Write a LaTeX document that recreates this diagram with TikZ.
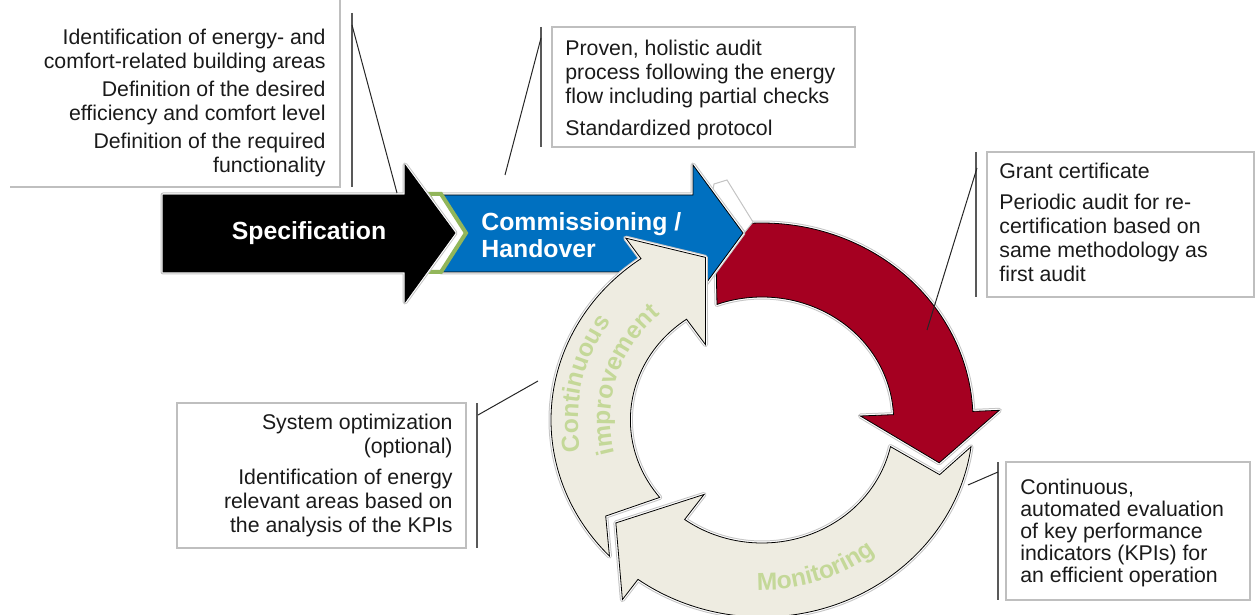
\documentclass[tikz,border=0pt]{standalone}
\usepackage{fontspec}
\setmainfont{Liberation Sans}
\usetikzlibrary{calc,decorations.text}

\definecolor{commblue}{RGB}{0,112,192}
\definecolor{certred}{RGB}{165,0,33}
\definecolor{cyclebeige}{RGB}{238,236,225}
\definecolor{chevgreen}{RGB}{146,182,90}
\definecolor{cyclegreen}{RGB}{196,216,152}
\definecolor{boxgray}{RGB}{191,191,191}
\definecolor{bargray}{RGB}{89,89,89}
\definecolor{halogray}{RGB}{196,196,196}
\definecolor{notetext}{RGB}{26,26,26}

% one arrow of the cycle: fill, tip of the previous arrow, head base, tip
\newcommand{\cyclearrow}[4]{%
  \pgfmathsetmacro{\tailout}{#2-6.7}
  \pgfmathsetmacro{\tailnotch}{#2+3.7}
  \pgfmathsetmacro{\tailin}{#2-2}
  \draw[halo, fill=#1] ($(C)+(\tailout:211 and 197)$)
    arc[start angle=\tailout, end angle=#3, x radius=211, y radius=197]
    -- ($(C)+(#3:237.5 and 222)$)
    -- ($(C)+(#4:183 and 171)$)
    -- ($(C)+(#3:98.5 and 92)$)
    -- ($(C)+(#3:131.6 and 123)$)
    arc[start angle=#3, end angle=\tailin, x radius=131.6, y radius=123]
    -- ($(C)+(\tailnotch:187 and 175)$)
    -- cycle;
}

\begin{document}
\begin{tikzpicture}[x=0.5pt, y=-0.5pt,
  halo/.style={preaction={draw=halogray, line width=2.5pt, line join=round},
               preaction={draw=white, line width=1.5pt, line join=round}},
  note/.style={inner sep=0pt, text=notetext, font=\fontsize{10.65}{12}\selectfont},
  notebox/.style={draw=boxgray, line width=0.6pt},
  bar/.style={draw=bargray, line width=1pt},
  leader/.style={draw=black!85, line width=0.5pt},
  arrowtext/.style={inner sep=0pt, text=white, font=\bfseries\fontsize{12.4}{13.5}\selectfont}]

    \useasboundingbox (0,0) rectangle (1255,615);
    \coordinate (C) at (762,420);

    % cycle, red part first (blue goes over it)
    \cyclearrow{certred}{252}{357.5}{374.5}
    \draw[draw=halogray, line width=0.5pt, fill=white] (713,190) -- (714,184) -- (727,180) -- (753,222) -- (745,232) -- cycle;

    % process arrows
    \draw[halo, fill=commblue] (441,195) -- (693,195) -- (693,165) -- (743,233) -- (693,301) -- (693,272) -- (441,272) -- (466,233) -- cycle;
    \draw[draw=chevgreen, line width=2pt, fill=white] (428,194) -- (441,194) -- (466,233) -- (441,272) -- (425,272) -- (451,233) -- cycle;
    \draw[halo, fill=black] (163,195) -- (405,195) -- (405,165) -- (455,233) -- (405,302) -- (405,272) -- (163,272) -- cycle;

    % monitoring, continuous improvement
    \cyclearrow{cyclebeige}{14.5}{126}{143}
    \cyclearrow{cyclebeige}{143}{235}{252}

    \node[arrowtext] (speclabel) at (309,233) {Specification};
    \node[arrowtext, align=left, anchor=north west] (commlabel) at (481,212.5) {Commissioning /\\Handover};

    % curved labels on the cycle
    \path[decorate, decoration={text along path, text align=center,
        text={|\bfseries\fontsize{12.3}{14}\selectfont\color{cyclegreen}|Monitoring}}]
        ($(C)+(112:181.9 and 170)$) arc[start angle=112, end angle=30, x radius=181.9, y radius=170];
    \path[decorate, decoration={text along path, text align=center,
        text={|\bfseries\fontsize{12.3}{14}\selectfont\color{cyclegreen}|Continuous}}]
        ($(C)+(152:184 and 172)$) arc[start angle=152, end angle=232, x radius=184, y radius=172];
    \path[decorate, decoration={text along path, text align=center,
        text={|\bfseries\fontsize{12.3}{14}\selectfont\color{cyclegreen}|improvement}}]
        ($(C)+(157:152 and 142)$) arc[start angle=157, end angle=237, x radius=152, y radius=142];

    % notes
    \draw[notebox] (10,187) -- (340,187) -- (340,0);
    \node[note, align=right, anchor=north east] (specnote) at (326,29)
        {Identification of energy- and\\comfort-related building areas\\[2pt]
         Definition of the desired\\efficiency and comfort level\\[2pt]
         Definition of the required\\functionality};

    \draw[notebox] (552,27) rectangle (855,147);
    \node[note, align=left, anchor=north west] (handovernote) at (565,40)
        {Proven, holistic audit\\process following the energy\\flow including partial checks\\[4pt]
         Standardized protocol};

    \draw[notebox] (987,152) rectangle (1254,297);
    \node[note, align=left, anchor=north west] (certnote) at (999,163)
        {Grant certificate\\[3.5pt]
         Periodic audit for re-\\certification based on\\same methodology as\\first audit};

    \draw[notebox] (177,403) rectangle (466,548);
    \node[note, align=right, anchor=north east] (optnote) at (453,414)
        {System optimization\\(optional)\\[3.5pt]
         Identification of energy\\relevant areas based on\\the analysis of the KPIs};

    \draw[notebox] (1006,462) rectangle (1250,600);
    \node[note, align=left, anchor=north west, font=\fontsize{10.65}{11}\selectfont] (monnote) at (1020,478.5)
        {Continuous,\\automated evaluation\\of key performance\\indicators (KPIs) for\\an efficient operation};

    % brackets and leader lines
    \coordinate (specbartop) at (352,13);    \coordinate (specbarbot) at (352,187);
    \coordinate (specpin) at (352,25);       \coordinate (specaim) at (397,193);
    \coordinate (handbartop) at (541,27);    \coordinate (handbarbot) at (541,147);
    \coordinate (handpin) at (541,38);       \coordinate (handaim) at (505,175);
    \coordinate (certbartop) at (976,152);   \coordinate (certbarbot) at (976,297);
    \coordinate (certpin) at (977,168);      \coordinate (certaim) at (927,330);
    \coordinate (optbartop) at (477,403);    \coordinate (optbarbot) at (477,548);
    \coordinate (optpin) at (478,415);       \coordinate (optaim) at (538,381);
    \coordinate (monbartop) at (998,462);    \coordinate (monbarbot) at (998,600);
    \coordinate (monpin) at (998,472);       \coordinate (monaim) at (968,485);

    \draw[bar] (specbartop) -- (specbarbot);
    \draw[bar] (handbartop) -- (handbarbot);
    \draw[bar] (certbartop) -- (certbarbot);
    \draw[bar] (optbartop) -- (optbarbot);
    \draw[bar] (monbartop) -- (monbarbot);

    \draw[leader] (specpin) -- (specaim);
    \draw[leader] (handpin) -- (handaim);
    \draw[leader] (certpin) -- (certaim);
    \draw[leader] (optpin) -- (optaim);
    \draw[leader] (monpin) -- (monaim);
\end{tikzpicture}
\end{document}
